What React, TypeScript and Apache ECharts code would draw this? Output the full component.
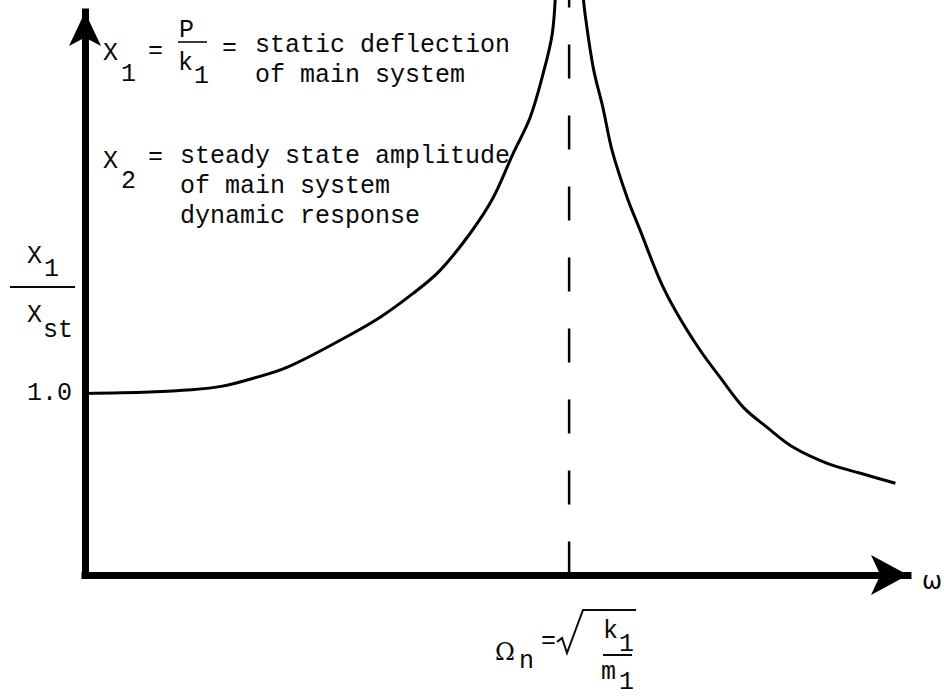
import React, { useEffect, useRef } from "react";
import * as echarts from "echarts";

// Frequency ratio ω/Ωn and amplitude ratio X1/Xst, below resonance
const belowRatio = [0, 0.133, 0.22, 0.284, 0.346, 0.417, 0.526, 0.609, 0.677, 0.733, 0.795, 0.843, 0.884, 0.919, 0.946, 0.965, 0.972];
const belowAmp = [1.0, 1.008, 1.02, 1.04, 1.082, 1.143, 1.291, 1.418, 1.549, 1.676, 1.879, 2.077, 2.319, 2.516, 2.758, 2.978, 3.214];

// ... and above resonance
const aboveRatio = [1.028, 1.033, 1.05, 1.07, 1.089, 1.12, 1.147, 1.188, 1.223, 1.271, 1.312, 1.36, 1.409, 1.463, 1.533, 1.602, 1.674];
const aboveAmp = [3.214, 3.088, 2.791, 2.571, 2.335, 2.077, 1.896, 1.621, 1.44, 1.236, 1.088, 0.923, 0.813, 0.703, 0.615, 0.56, 0.505];

// Natural frequency marker (ω = Ωn) and its vertical extent
const resonanceRatio = 1.0;
const resonanceSpan = [-0.085, 3.3];

// Axis ranges and the single labelled amplitude tick
const ampMax = 3.1;
const ratioMax = 1.7;
const labelledTicks = [1.0];

const MONO = '"Liberation Mono", "DejaVu Sans Mono", monospace';
const INK = "#0a0a0a";

const zip = (xs: number[], ys: number[]) => xs.map((x, i) => [x, ys[i]]);

// Text placed by its baseline
function txt(text: string, x: number, base: number, size = 25, align = "left", family = MONO) {
  return {
    type: "text",
    x,
    y: base - size * 0.27,
    silent: true,
    style: {
      text,
      font: `${size}px ${family}`,
      fill: INK,
      textAlign: align,
      textVerticalAlign: "middle",
      verticalAlign: "middle",
    },
  };
}

function rule(x1: number, y1: number, x2: number, y2: number, w = 2) {
  return {
    type: "line",
    silent: true,
    shape: { x1, y1, x2, y2 },
    style: { stroke: INK, lineWidth: w },
  };
}

export default function App() {
  const ref = useRef<HTMLDivElement>(null);

  useEffect(() => {
    if (!ref.current) return;
    const chart = echarts.init(ref.current, null, { renderer: "svg" });

    const curveStyle = { color: "#000", width: 3 };

    const option = {
      animation: false,
      backgroundColor: "#fff",
      grid: { left: 85, right: 36, top: 12, bottom: 121, containLabel: false, outerBoundsMode: "none" },
      xAxis: {
        type: "value",
        min: 0,
        max: ratioMax,
        axisLine: {
          show: true,
          symbol: ["none", "arrow"],
          symbolSize: [30, 37],
          lineStyle: { color: "#000", width: 7, cap: "square" },
        },
        axisTick: { show: false },
        axisLabel: { show: false },
        splitLine: { show: false },
      },
      yAxis: {
        type: "value",
        min: 0,
        max: ampMax,
        interval: 1,
        axisLine: {
          show: true,
          onZero: false,
          symbol: ["none", "arrow"],
          symbolSize: [24, 34],
          lineStyle: { color: "#000", width: 7, cap: "square" },
        },
        axisTick: { show: false },
        splitLine: { show: false },
        axisLabel: {
          margin: 13,
          fontFamily: MONO,
          fontSize: 25,
          color: INK,
          formatter: (v: number) => (labelledTicks.includes(v) ? v.toFixed(1) : ""),
        },
      },
      series: [
        {
          name: "below resonance",
          type: "line",
          data: zip(belowRatio, belowAmp),
          smooth: 0.35,
          symbol: "none",
          clip: false,
          lineStyle: curveStyle,
          z: 3,
        },
        {
          name: "above resonance",
          type: "line",
          data: zip(aboveRatio, aboveAmp),
          smooth: 0.35,
          symbol: "none",
          clip: false,
          lineStyle: curveStyle,
          z: 3,
        },
        {
          name: "natural frequency",
          type: "line",
          data: resonanceSpan.map((a) => [resonanceRatio, a]),
          symbol: "none",
          clip: false,
          lineStyle: { color: "#000", width: 2.5, type: [34, 37], dashOffset: 56 },
          z: 2,
        },
      ],
      graphic: [
        // X1 = P / k1 = static deflection of main system
        txt("X", 103, 60),
        txt("1", 121, 81),
        txt("=", 148, 58),
        txt("P", 179, 37),
        rule(178, 42, 207, 42, 1.6),
        txt("k", 178, 70),
        txt("1", 194, 83),
        txt("=", 222, 55),
        txt("static deflection", 255, 52),
        txt("of main system", 255, 82),
        // X2 = steady state amplitude of main system dynamic response
        txt("X", 103, 168),
        txt("2", 121, 188),
        txt("=", 148, 164),
        txt("steady state amplitude", 180, 163),
        txt("of main system", 180, 193),
        txt("dynamic response", 180, 223),
        // Axis title X1 / Xst
        txt("X", 27, 263),
        txt("1", 44, 276),
        rule(10, 287, 75, 287, 2),
        txt("X", 27, 322),
        txt("st", 43, 337),
        // ω at the end of the frequency axis
        txt("ω", 932, 587, 24, "center", '"DejaVu Sans", sans-serif'),
        // Ωn = sqrt(k1 / m1)
        txt("Ω", 505, 658, 24, "center", '"DejaVu Serif", serif'),
        txt("n", 519, 668),
        txt("=", 541, 648),
        {
          type: "polyline",
          silent: true,
          shape: { points: [[557, 642], [562, 638], [567, 653], [583, 610], [636, 610]] },
          style: { stroke: INK, lineWidth: 2, fill: "none" },
        },
        txt("k", 603, 638),
        txt("1", 619, 651),
        rule(603, 655, 632, 655, 2),
        txt("m", 601, 679),
        txt("1", 619, 689),
      ],
    };

    chart.setOption(option as any);
    return () => chart.dispose();
  }, []);

  return (
    <div
      ref={ref}
      style={{ position: "fixed", left: 0, top: 0, width: 944, height: 696, background: "#fff" }}
    />
  );
}
